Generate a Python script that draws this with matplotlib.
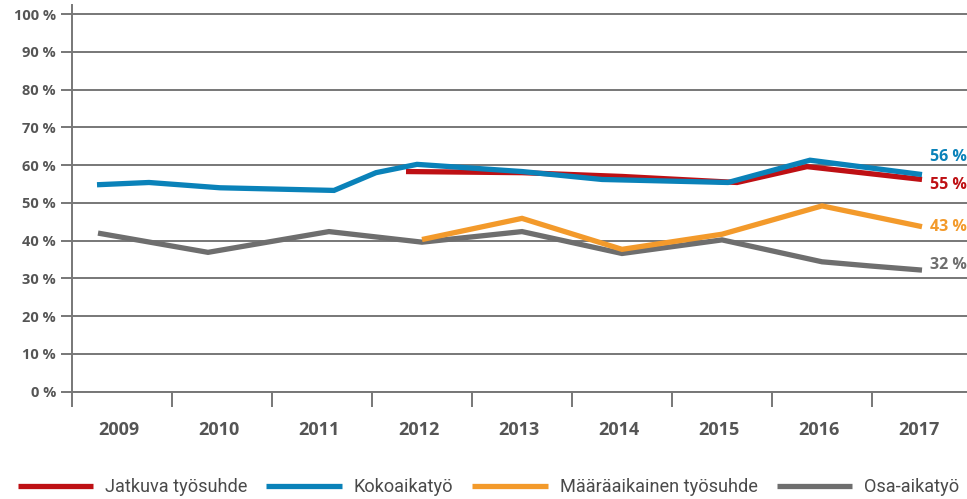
import matplotlib
matplotlib.use("Agg")
import matplotlib.pyplot as plt

# series (x = fractional year, y = percent)
years = [2009, 2010, 2011, 2012, 2013, 2014, 2015, 2016, 2017]
year_labels = [str(y) for y in years]

jatkuva_x = [2011.84, 2013.0, 2014.0, 2015.15, 2015.85, 2017.0]
jatkuva_y = [58.3, 58.0, 57.0, 55.4, 59.6, 56.2]

koko_x = [2008.75, 2009.27, 2009.98, 2011.12, 2011.54, 2011.95, 2013.0, 2013.8, 2015.06, 2015.88, 2017.0]
koko_y = [54.8, 55.4, 54.0, 53.3, 58.0, 60.2, 58.3, 56.2, 55.4, 61.3, 57.5]

maara_x = [2012, 2013, 2014, 2015, 2016, 2017]
maara_y = [40.3, 45.9, 37.7, 41.7, 49.2, 43.7]

osa_x = [2008.76, 2009.86, 2011.07, 2012, 2013, 2014, 2015, 2016, 2016.48, 2017]
osa_y = [42.0, 36.9, 42.4, 39.6, 42.4, 36.6, 40.2, 34.4, 33.3, 32.2]

names = ["Jatkuva työsuhde", "Kokoaikatyö", "Määräaikainen työsuhde", "Osa-aikatyö"]
end_labels = ["55 %", "56 %", "43 %", "32 %"]

colors = ["#be1014", "#0a82b9", "#f39a2b", "#6e6e6e"]
label_dy = [-4, 13, 0, 4]      # vertical nudge of end labels, points
zorders = [3, 4, 2, 1]
grid_col = "#777777"
txt_col = "#555555"

plt.rcParams["font.family"] = ["Open Sans", "DejaVu Sans"]

fig = plt.figure(figsize=(9.67, 4.99), dpi=100)
ax = fig.add_axes([72 / 967, 107.3 / 499, 1 - 72 / 967, 386.7 / 499])

series = [(jatkuva_x, jatkuva_y), (koko_x, koko_y), (maara_x, maara_y), (osa_x, osa_y)]
for (xs, ys), name, c, lab, dy, z in zip(series, names, colors, end_labels, label_dy, zorders):
    ax.plot(xs, ys, color=c, lw=3.8, label=name, zorder=z, solid_joinstyle="miter",
            solid_capstyle="butt")
    ax.annotate(lab, (xs[-1], ys[-1]), xytext=(6, dy), textcoords="offset points",
                color=c, fontsize=11.5, fontweight="bold", va="center", ha="left",
                annotation_clip=False)

ax.set_xlim(2008.5, 2017.45)
ax.set_ylim(0, 102.4)

# y axis
ax.set_yticks(range(0, 101, 10))
ax.set_yticklabels([f"{v} %" for v in range(0, 101, 10)])
ax.yaxis.grid(True, color=grid_col, lw=1.4)
ax.set_axisbelow(True)
ax.tick_params(axis="y", length=8, width=1.4, color=grid_col, pad=3.5,
               labelsize=10.5, labelcolor=txt_col)
for lab in ax.get_yticklabels():
    lab.set_fontweight("bold")

# x axis: tick marks between years, labels centred on years
ax.set_xticks([y - 0.5 for y in years])
ax.set_xticklabels([])
ax.set_xticks([y - 0.03 for y in years], minor=True)
ax.set_xticklabels(year_labels, minor=True)
ax.tick_params(axis="x", which="major", length=11, width=1.4, color=grid_col)
ax.tick_params(axis="x", which="minor", length=0, pad=21, labelsize=13, labelcolor=txt_col)
for lab in ax.get_xticklabels(minor=True):
    lab.set_fontweight("bold")

for s in ["top", "right"]:
    ax.spines[s].set_visible(False)
for s in ["left", "bottom"]:
    ax.spines[s].set_color(grid_col)
    ax.spines[s].set_linewidth(1.4)

leg = fig.legend(loc="center", bbox_to_anchor=(0.505, 12 / 499), ncol=4, frameon=False,
                 handlelength=4.15, handletextpad=0.65, columnspacing=1.05,
                 prop={"family": "Roboto", "size": 13.1})
for t in leg.get_texts():
    t.set_color("#4a4a4a")
for h in leg.legend_handles:
    h.set_linewidth(3.8)

fig.savefig("out.png", dpi=100)
